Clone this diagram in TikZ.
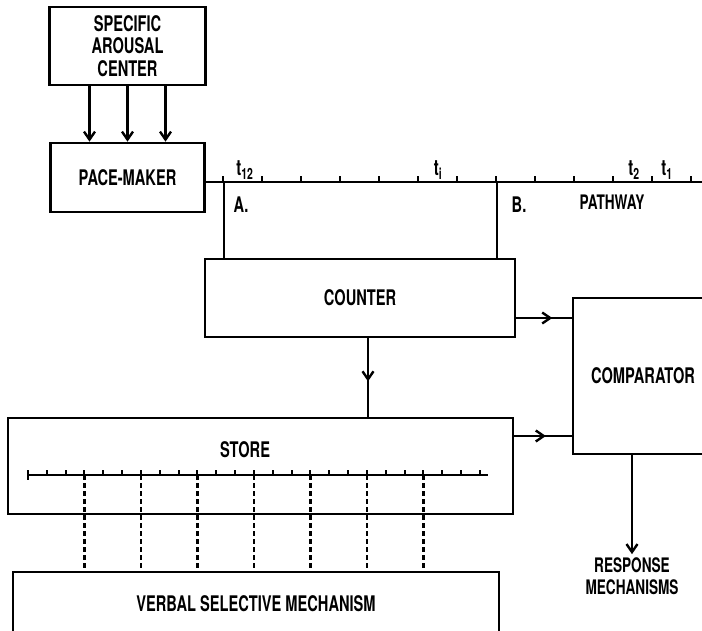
\documentclass[tikz,border=0pt]{standalone}
\usepackage{fontspec}
\usepackage{tikz}
\usetikzlibrary{arrows.meta,decorations.markings}
\newfontfamily\blockfont[FakeStretch=0.68]{TeX Gyre Heros}
\tikzset{every picture/.style={line width=2.6pt}}

\begin{document}
\begin{tikzpicture}[x=1pt,y=-1pt,>={Straight Barb[length=8pt,width=11pt,line width=2.4pt]},
 every node/.style={font=\blockfont\bfseries\fontsize{21.5}{22.5}\selectfont},
 block/.style={draw,line width=2.6pt,inner sep=0pt,align=center},
 tlabel/.style={font=\blockfont\bfseries\fontsize{22}{22}\selectfont},
 dropline/.style={line width=2.4pt,dash pattern=on 5pt off 3pt},
 midarrow/.style={postaction={decorate},decoration={markings,
  mark=at position #1 with {\arrow{>}}}},
 midarrow/.default=.6]
 \useasboundingbox (0,0) rectangle (702,631);
 \clip (0,0) rectangle (702,631);

 % boxes
 \node[block,minimum width=156pt,minimum height=78pt] (arousal)
  at (127.5,46) {SPECIFIC\\AROUSAL\\CENTER};
 \node[block,minimum width=154pt,minimum height=69pt] (pace)
  at (127.5,177.5) {PACE-MAKER};
 \node[block,minimum width=310pt,minimum height=78pt] (counter)
  at (360,298) {COUNTER};
 \node[block,minimum width=140pt,minimum height=156pt] (comparator)
  at (643,376) {COMPARATOR};
 \node[block,minimum width=505pt,minimum height=96pt] (store)
  at (260.5,466) {};
 \node (storelbl) at (245,450) {STORE};
 \node[block,minimum width=486pt,minimum height=64pt] (verbal)
  at (256,604) {VERBAL SELECTIVE MECHANISM};
 \node[align=center,inner sep=2pt,font=\blockfont\bfseries\fontsize{20}{22}\selectfont]
  (response) at (632,576) {RESPONSE\\MECHANISMS};

 % arousal drives the pace-maker
 \foreach \dx in {-38,0,38}
  \draw[->] ([xshift=\dx pt]arousal.south) -- ([xshift=\dx pt]pace.north);

 % pathway with its pulses
 \coordinate (pathend) at (710,182);
 \draw (pace.east |- pathend) -- (pathend);
 \foreach \k in {0,...,12}
  \draw[line width=2.2pt] (223+39*\k,182) -- ++(0,-6);
 \node[tlabel] (t12) at (245,170) {t\textsubscript{12}};
 \node[tlabel] (ti) at (438,170) {t\textsubscript{i}};
 \node[tlabel] (t2) at (634,170) {t\textsubscript{2}};
 \node[tlabel] (t1) at (667,170) {t\textsubscript{1}};
 \node (tA) at (241,205) {A.};
 \node (tB) at (519,205) {B.};
 \node[font=\blockfont\bfseries\fontsize{20}{20}\selectfont]
  (pathlbl) at (612,202) {PATHWAY};

 % taps A and B into the counter
 \coordinate (tapA) at (224,182);
 \coordinate (tapB) at (497,182);
 \draw (tapA) -- (tapA |- counter.north);
 \draw (tapB) -- (tapB |- counter.north);

 % counter outputs
 \coordinate (cntout) at ([yshift=-20pt]counter.east);
 \draw[midarrow=.65] (cntout) -- (cntout -| comparator.west);
 \coordinate (cntdown) at ([xshift=8pt]counter.south);
 \draw[midarrow=.55] (cntdown) -- (cntdown |- store.north);

 % store to comparator
 \coordinate (storeout) at ([yshift=30pt]store.east);
 \draw[midarrow=.55] (storeout) -- (storeout -| comparator.west);

 % comparator to response
 \coordinate (cmpout) at ([xshift=-11pt]comparator.south);
 \draw[->] (cmpout) -- (response.north);

 % scale inside the store
 \coordinate (rulerL) at (28,475);
 \coordinate (rulerR) at (488,475);
 \draw[line width=2.2pt] (rulerL) -- (rulerR);
 \draw[line width=2.2pt] ([yshift=5pt]rulerL) -- ([yshift=-5pt]rulerL);
 \foreach \k in {1,...,24}
  \draw[line width=2pt] (28+18.83*\k,475) -- ++(0,-5);
 \foreach \k in {3,6,...,21} {
  \coordinate (d\k) at (28+18.83*\k,475);
  \draw[dropline] (d\k) -- (d\k |- verbal.north);
 }
\end{tikzpicture}
\end{document}
